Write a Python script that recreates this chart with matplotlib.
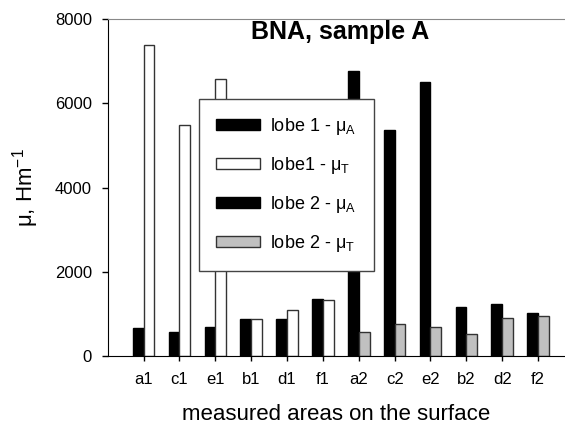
import numpy as np
import matplotlib
matplotlib.use('Agg')
import matplotlib.pyplot as plt

# ============ DATA ============
areas = ['a1', 'c1', 'e1', 'b1', 'd1', 'f1', 'a2', 'c2', 'e2', 'b2', 'd2', 'f2']
lobe1_muA = [660, 570, 680, 870, 870, 1355]
lobe1_muT = [7380, 5500, 6580, 870, 1090, 1325]
lobe2_muA = [6780, 5370, 6510, 1165, 1245, 1015]
lobe2_muT = [560, 750, 680, 515, 905, 945]
y_ticks = [0, 2000, 4000, 6000, 8000]

plt.rcParams['font.family'] = ['Liberation Sans', 'DejaVu Sans']

# ============ PLOT ============
fig = plt.figure(figsize=(5.65, 4.29), dpi=100)
ax = fig.add_axes([0.1906, 0.170, 1 - 0.1906, 0.785])

x = np.arange(len(areas))
x1 = x[:6]
x2 = x[6:]
w = 0.3

ax.bar(x1 - w / 2, lobe1_muA, w, color='black', edgecolor='black', lw=1,
       label='lobe 1 - μ$_\\mathregular{A}$')
ax.bar(x1 + w / 2, lobe1_muT, w, color='white', edgecolor='#333333', lw=1,
       label='lobe1 - μ$_\\mathregular{T}$')
ax.bar(x2 - w / 2, lobe2_muA, w, color='black', edgecolor='black', lw=1,
       label='lobe 2 - μ$_\\mathregular{A}$')
ax.bar(x2 + w / 2, lobe2_muT, w, color='#c0c0c0', edgecolor='#333333', lw=1,
       label='lobe 2 - μ$_\\mathregular{T}$')

ax.set_xlim(-1, 11.75)
ax.set_ylim(0, 8000)
ax.set_xticks(x)
ax.set_xticklabels(areas)
ax.set_yticks(y_ticks)
ax.tick_params(axis='both', labelsize=12, direction='out', width=1)
ax.tick_params(axis='x', length=3.6, pad=8)
ax.tick_params(axis='y', length=4.3, pad=7)

ax.spines['right'].set_visible(False)
ax.spines['top'].set_color('#888888')
ax.spines['left'].set_color('black')
ax.spines['bottom'].set_color('black')

ax.set_xlabel('measured areas on the surface', fontsize=16, labelpad=12)
ax.set_ylabel('μ, Hm$^\\mathregular{-1}$', fontsize=16, labelpad=10)
ax.text(0.508, 0.962, 'BNA, sample A', transform=ax.transAxes, ha='center',
        va='center', fontsize=18, fontweight='bold')

leg = ax.legend(loc='upper left', bbox_to_anchor=(0.2, 0.763), borderaxespad=0,
                fontsize=13, handlelength=2.4, handleheight=0.55,
                handletextpad=0.6, labelspacing=0.99, borderpad=0.95,
                fancybox=False, framealpha=1)
leg.get_frame().set_edgecolor('#444444')
leg.get_frame().set_linewidth(1)

plt.savefig('out.png', dpi=100)
